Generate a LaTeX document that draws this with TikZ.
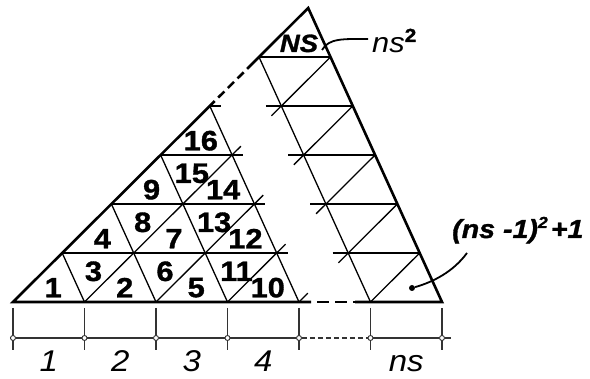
\documentclass[tikz,border=0pt]{standalone}
\usepackage{fontspec}
\setmainfont{Liberation Sans}[FakeStretch=1.1, BoldFeatures={FakeBold=1.2}, BoldItalicFeatures={FakeBold=1.2}]
\usepackage{tikz}
\usetikzlibrary{positioning}
\usetikzlibrary{calc}

\tikzset{
  rim/.style={line width=2.6pt},
  mesh/.style={line width=1.3pt},
  dimln/.style={line width=1.1pt, draw=black!80},
  knot/.style={circle, draw=black!80, fill=white, line width=0.9pt, inner sep=0pt, minimum size=5pt},
  num/.style={font=\fontsize{28}{28}\selectfont\bfseries, inner sep=0pt},
  dimlab/.style={font=\fontsize{30}{30}\selectfont\itshape, anchor=base},
  leader/.style={line width=1.8pt},
}

\begin{document}
\begin{tikzpicture}[x=1pt, y=1pt]
    \useasboundingbox (-13,-77) rectangle (577,302);
    \foreach \row in {0,...,6} {
        \pgfmathtruncatemacro\last{6-\row}
        \foreach \i in {0,...,\last}
            \coordinate (p\i-\row) at ({\i*71.5+\row*49.2},{\row*49});
    }
    \foreach \j in {1,...,5}
        \draw[mesh] (p\j-0) -- (p0-\j);
    \foreach \row in {1,...,4} {
        \pgfmathtruncatemacro\ka{4-\row}
        \draw[mesh] (p0-\row) -- ($(p\ka-\row)+(11,0)$);
    }
    \foreach \i in {1,...,4} {
        \pgfmathtruncatemacro\ka{4-\i}
        \draw[mesh] (p\i-0) -- ($(p\i-\ka)+(8.8,8.8)$);
    }
    \foreach \row/\ext in {1/15.5,2/15.5,3/15.5,4/15.5,5/0} {
        \pgfmathtruncatemacro\ka{5-\row}
        \pgfmathtruncatemacro\kb{6-\row}
        \draw[mesh] ($(p\ka-\row)+(-\ext,0)$) -- (p\kb-\row);
    }
    \foreach \row/\ext in {0/0,1/9.8,2/9.8,3/9.8,4/9.8} {
        \pgfmathtruncatemacro\ka{5-\row}
        \pgfmathtruncatemacro\up{\row+1}
        \draw[mesh] ($(p\ka-\row)+(-\ext,-\ext)$) -- (p\ka-\up);
    }
    \coordinate (bl) at ($(p4-0)+(12,0)$);
    \coordinate (br) at ($(p5-0)+(-15.5,0)$);
    \coordinate (el) at ($(p0-4)!0.1!(p0-5)$);
    \coordinate (eu) at ($(p0-4)!0.76!(p0-5)$);
    \draw[rim] (bl) -- (p0-0) -- (el);
    \draw[rim, dash pattern=on 8.6pt off 5pt, dash phase=8.6pt] (el) -- (eu);
    \draw[rim] (eu) -- (p0-6) -- (p6-0) -- (br);
    \draw[rim, dash pattern=on 12pt off 6pt, dash phase=12pt] (bl) -- (br);
    \foreach \band in {1,...,4} {
        \pgfmathtruncatemacro\last{\band-1}
        \foreach \row in {0,...,\last} {
            \pgfmathtruncatemacro\ia{\band-1-\row}
            \pgfmathtruncatemacro\ib{\band-\row}
            \pgfmathtruncatemacro\up{\row+1}
            \pgfmathtruncatemacro\tri{\last*\last+1+2*\row}
            \node[num] (t\tri) at ($0.3333*(p\ia-\row)+0.3333*(p\ib-\row)+0.3333*(p\ia-\up)+(0,-2)$) {\tri};
            \ifnum\row<\last
                \pgfmathtruncatemacro\ic{\band-2-\row}
                \pgfmathtruncatemacro\trib{\tri+1}
                \node[num] (t\trib) at ($0.3333*(p\ia-\row)+0.3333*(p\ia-\up)+0.3333*(p\ic-\up)+(0,-2)$) {\trib};
            \fi
        }
    }
    \foreach \i in {0,...,6}
        \draw[dimln] ($(p\i-0)+(0,-6)$) -- ($(p\i-0)+(0,-48)$);
    \foreach \i in {0,...,6}
        \node[knot] (k\i) at ($(p\i-0)+(0,-36)$) {};
    \coordinate (kl) at (-3,-36);
    \coordinate (kr) at ($(k6)+(9,0)$);
    \draw[dimln] (kl) -- (k0);
    \foreach \i/\j in {0/1,1/2,2/3,3/4,5/6}
        \draw[dimln] (k\i) -- (k\j);
    \draw[dimln, dash pattern=on 5pt off 3pt] (k4) -- (k5);
    \draw[dimln] (k6) -- (kr);
    \foreach \i/\lab in {0/1,1/2,2/3,3/4,5/ns}
        \node[dimlab] (c\i) at ({\i*71.5+35.75},-70) {\lab};
    \node[anchor=base, font=\fontsize{25}{25}\selectfont\bfseries\itshape] (ns) at (286,250) {NS};
    \node[anchor=base west, inner sep=0pt, font=\fontsize{28}{28}\selectfont\itshape] (nsq) at (359,249) {ns\raisebox{11pt}{\fontsize{19}{19}\selectfont\upshape\bfseries 2}};
    \node[anchor=base west, inner sep=0pt, font=\fontsize{26}{26}\selectfont\bfseries\itshape] (form) at (439,64) {(ns -1)\raisebox{10pt}{\fontsize{16}{16}\selectfont 2}\hspace{3pt}+1};
    \node[circle, fill, inner sep=0pt, minimum size=6pt] (dot) at (399,14) {};
    \coordinate (nsa) at (309,252);
    \coordinate (nsb) at ($(nsq.base west)+(-4,14)$);
    \coordinate (fa) at ($(form.base west)+(15,-15)$);
    \draw[leader] (nsa) .. controls (316,264) and (330,263) .. (nsb);
    \draw[leader] (dot) .. controls (420,20) and (440,30) .. (fa);
\end{tikzpicture}
\end{document}
